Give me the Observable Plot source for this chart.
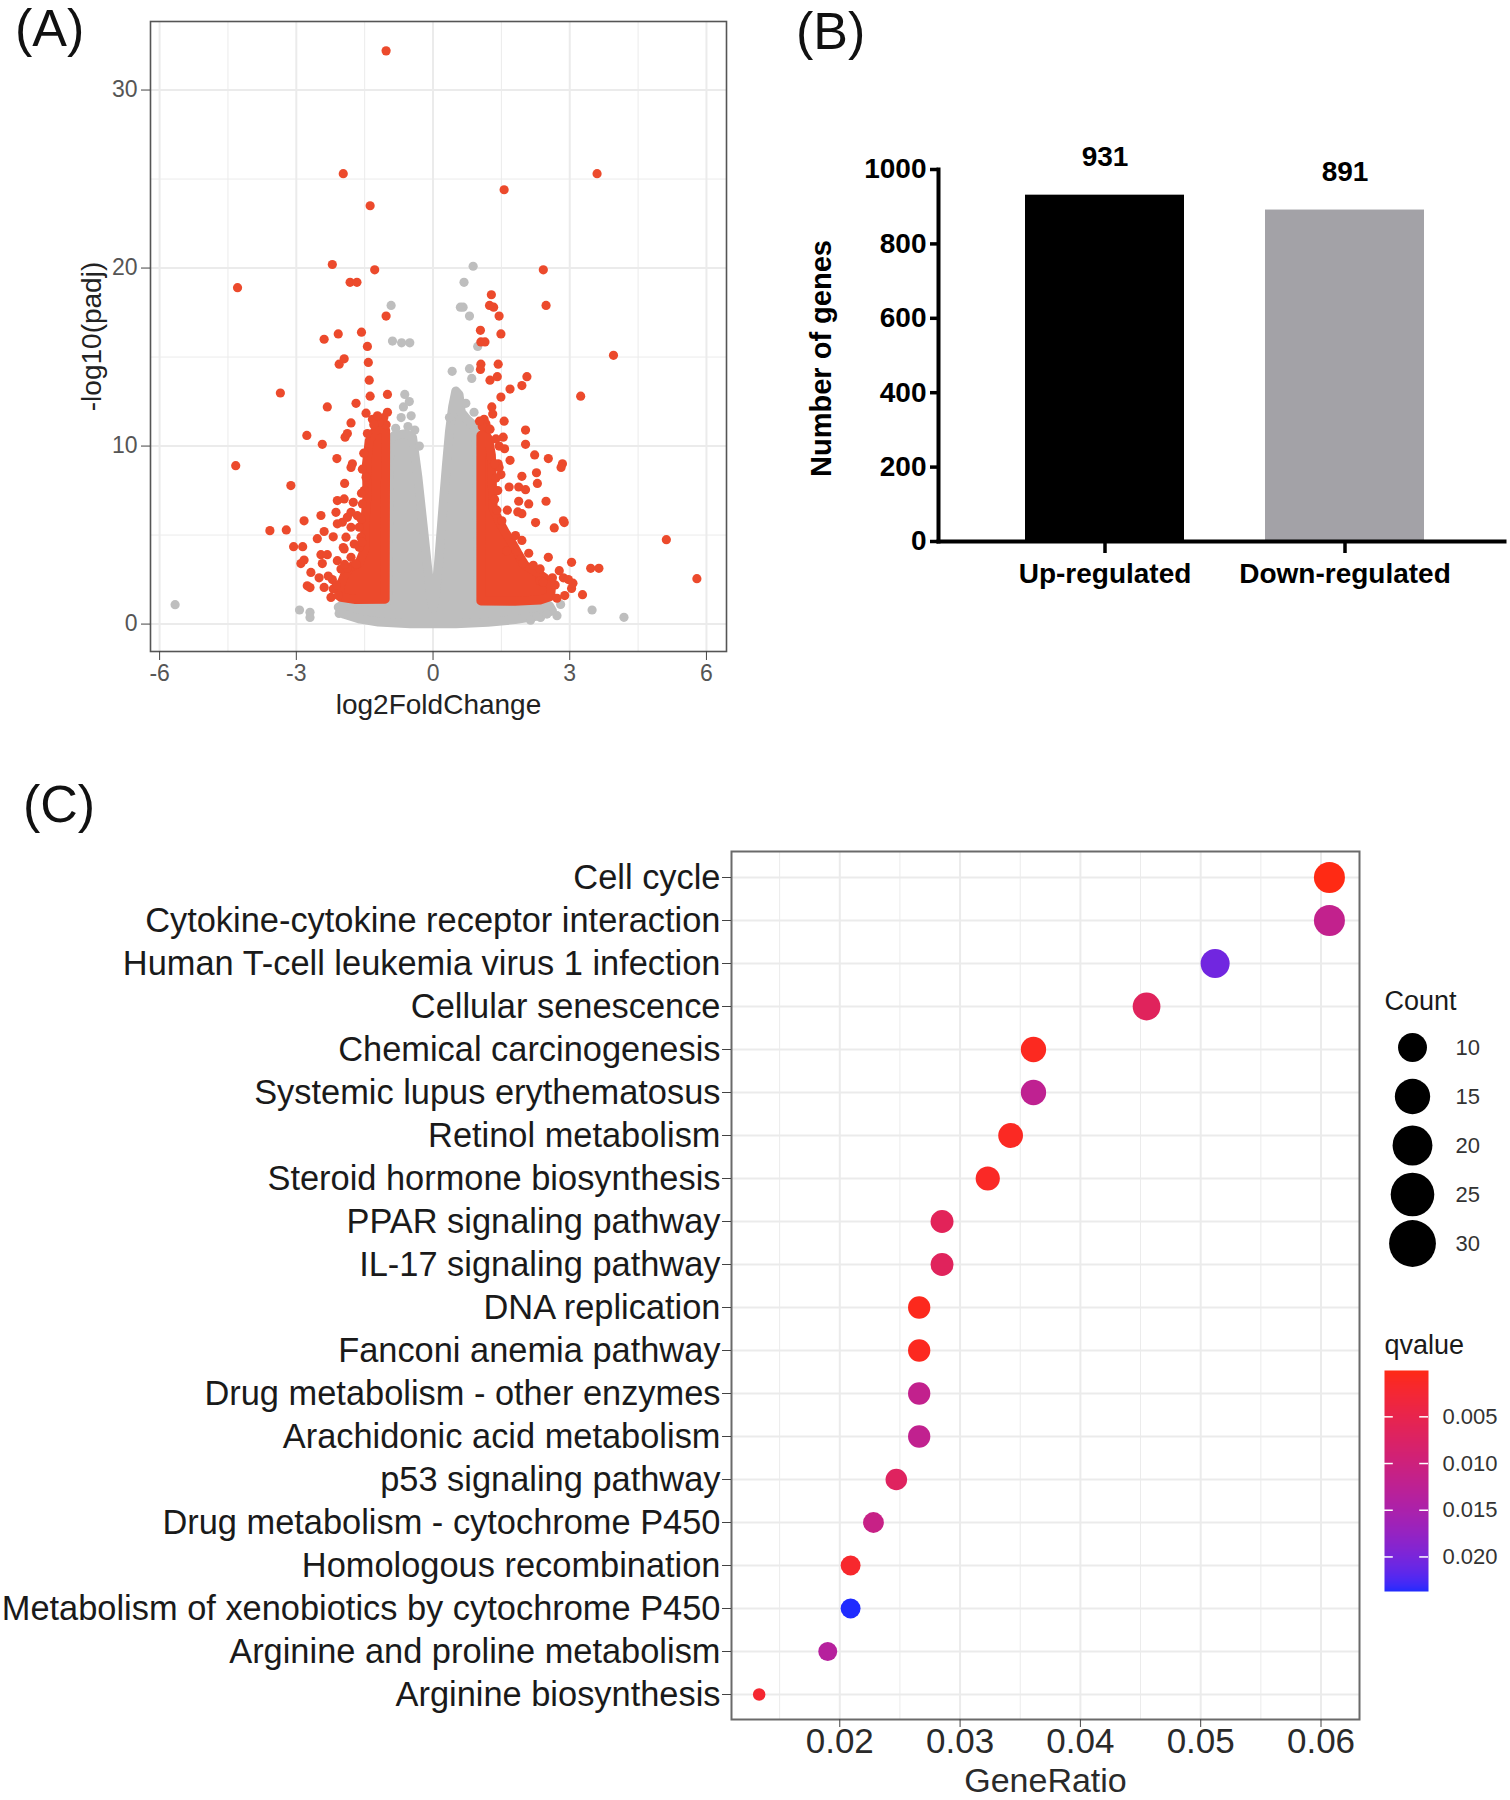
<!DOCTYPE html>
<html>
<head>
<meta charset="utf-8">
<script src="https://cdn.jsdelivr.net/npm/d3@7"></script>
<script src="https://cdn.jsdelivr.net/npm/@observablehq/plot@0.6"></script>
<style>
  html, body { margin: 0; padding: 0; background: #ffffff; }
  #root { position: relative; width: 1510px; height: 1800px; overflow: hidden; background: #fff;
          font-family: "Liberation Sans", Arial, sans-serif; }
  .panel { position: absolute; z-index: 1; }
  .panel svg { display: block; }
  .tag { position: absolute; z-index: 5; font-size: 52px; line-height: 1; color: #111; font-family: "Liberation Sans", Arial, sans-serif; }
</style>
</head>
<body>
<div id="root">
  <div class="tag" style="left:15px; top:2px;">(A)</div>
  <div class="tag" style="left:796px; top:5px;">(B)</div>
  <div class="tag" style="left:23px; top:778px;">(C)</div>
</div>
<script>
// ---------------- Panel A: volcano plot (log2FoldChange, -log10(padj)) ----------------
// significant (red) genes read individually
const volcanoSigPoints = [
  [-1.03,32.2],[-1.97,25.3],[-1.38,23.5],[-2.21,20.2],[-1.28,19.9],[-1.82,19.2],[-1.67,19.2],[-4.29,18.9],
  [-1.03,17.3],[-2.08,16.3],[-1.57,16.4],[-2.39,16.0],[-1.44,15.6],
  [3.60,25.3],[1.56,24.4],[2.42,19.9],[1.28,18.5],[1.24,17.9],[1.33,17.8],[2.48,17.9],[1.45,17.3],
  [1.04,16.5],[1.49,16.3],[1.05,15.85],[1.14,15.85],
  [-4.33,8.9],[-3.35,12.98],[-3.12,7.78],[-3.58,5.25],[-3.22,5.29],[-3.06,4.35],[-2.86,4.35],[-2.77,10.6],
  [-2.43,10.1],[-2.32,12.2],[-2.06,14.6],[-1.95,14.9],[-1.69,12.4],[-1.80,11.3],[-1.42,14.7],[-1.40,13.7],
  [-1.38,12.8],[-1.0,12.9],[-1.47,11.85],[-1.33,11.5],[-1.03,11.2],[-1.93,10.5],[-1.88,10.7],[-2.11,9.3],
  [-1.80,8.8],[-1.77,9.0],[-1.94,7.9],[-2.83,5.8],[-2.46,6.1],[-2.54,4.8],[-2.39,5.2],[-2.19,4.9],
  [-2.90,3.4],[-2.83,3.6],[-2.68,2.9],[-2.76,2.15],[-2.70,2.05],[-2.50,2.6],[-2.39,2.06],[-2.21,2.5],
  [-1.97,4.3],[-2.46,3.9],[-2.32,3.9],[-2.43,3.4],[-2.24,1.5],[-2.19,1.97],[-2.3,2.7],
  [-2.10,6.94],[-1.95,7.03],[-2.13,6.28],[-1.99,5.72],[-1.80,5.44],[-1.66,6.09],[-1.55,6.75],[-1.75,6.84],
  [-1.80,6.28],[-1.62,5.44],[-1.91,4.88],[-1.73,4.50],[-1.58,4.88],[-2.10,5.63],[-1.88,6.00],[-1.95,4.22],
  [-1.80,3.75],[-1.62,4.31],[-1.69,3.38],[-2.02,3.09],[-1.88,3.15],[-2.10,3.56],[-1.51,7.5],[-1.57,7.35],[-1.47,8.25],
  [-1.08,11.6],[-1.18,11.35],[-1.30,11.2],[-1.44,10.7],[-1.52,9.6],[-1.55,8.7],[-1.0,11.9],[-1.22,11.7],
  [-1.58,5.9],[-1.56,4.6],[-2.12,2.2],[-2.08,1.6],[-1.94,3.35],
  [3.96,15.1],[3.24,12.8],[5.12,4.74],[5.79,2.55],[3.46,3.13],[3.64,3.13],[3.04,3.47],[3.28,1.65],
  [2.89,1.6],[3.04,2.0],[2.86,2.6],[2.97,2.5],[3.07,2.3],[2.77,3.0],[2.53,3.75],[2.35,3.1],[2.72,1.45],
  [2.84,9.0],[2.81,8.8],[2.53,9.3],[2.86,5.8],[2.88,5.7],[2.66,5.4],[2.48,6.9],[2.25,5.7],[2.29,7.9],
  [2.27,8.5],[2.23,9.5],[2.03,10.1],[2.03,10.9],[2.06,13.9],[1.95,13.4],[1.69,13.2],[1.49,12.75],
  [1.25,13.7],[1.41,13.9],[1.05,14.6],[1.04,14.3],[1.43,14.6],[1.29,12.2],[1.31,11.8],[1.12,11.5],
  [1.16,11.25],[1.56,11.4],[1.54,10.5],[1.57,9.85],[1.69,9.2],[1.43,9.0],[1.49,8.4],[1.45,8.8],
  [1.95,8.3],[1.88,7.7],[2.03,7.55],[1.67,7.7],[1.88,6.9],[2.10,6.75],[1.86,6.3],[1.95,6.2],[1.63,6.4],
  [1.51,5.8],[1.81,4.97],[1.95,4.7],[1.62,4.1],[2.10,3.98],[1.92,3.65],[1.97,3.4],[2.35,2.44],[2.42,2.35],
  [1.35,9.0],[1.38,8.2],[1.42,7.5],[1.35,7.0],[1.40,6.4],[1.45,10.0],[1.38,10.4],[1.2,11.0],
  [1.08,11.1],[1.25,10.95],[1.02,11.4],[2.62,2.6],[2.68,2.2],[2.2,3.3]
];
// non-significant (grey) genes read individually (sparse ones)
const volcanoNsPoints = [
  [-5.66,1.09],[-2.93,0.79],[-2.70,0.66],[-2.70,0.37],[-2.06,0.6],[3.49,0.79],[4.19,0.38],
  [2.14,0.22],[2.36,0.37],[2.50,0.56],[2.72,0.47],[2.8,1.1],
  [-0.92,17.9],[-0.89,15.9],[-0.69,15.8],[-0.51,15.8],[-0.62,12.9],[-0.52,12.5],[-0.48,11.7],
  [-0.70,11.6],[-0.55,11.1],[-0.30,10.0],[-0.65,12.2],[-0.82,11.0],[-0.4,10.9],
  [0.88,20.1],[0.68,19.2],[0.60,17.8],[0.66,17.8],[0.80,17.3],[0.98,15.6],[0.42,14.2],[0.80,14.35],[0.85,13.8],
  [0.72,12.4],[0.9,11.9],[0.36,11.6]
];
// outline of the dense grey cloud (dot centres)
const nsCloudOutline = [
  [-1.95,0.55],[-2.08,0.95],[-1.9,1.2],[-1.5,1.25],[-1.0,1.3],
  [-0.95,10.3],[-0.85,10.6],[-0.6,10.7],[-0.45,10.5],
  [-0.33,8.2],[-0.22,5.6],[-0.12,3.2],[-0.05,1.6],[0.0,0.9],
  [0.05,1.6],[0.12,3.4],[0.2,6.0],[0.29,8.8],[0.36,10.8],[0.43,12.2],[0.5,13.1],[0.57,12.9],
  [0.62,11.9],[0.75,11.5],[0.88,11.2],[0.95,10.6],
  [1.0,1.25],[1.6,1.25],[2.2,1.2],[2.55,1.05],[2.62,0.75],[2.3,0.45],[1.8,0.25],[1.2,0.1],
  [0.5,0.02],[-0.5,0.02],[-1.2,0.12],[-1.6,0.28]
];
// outlines of the dense red clusters (dot centres)
const sigLeftOutline = [
  [-1.05,1.4],[-1.04,10.9],[-1.12,11.05],[-1.28,10.85],[-1.4,10.3],[-1.46,9.0],[-1.45,7.2],[-1.5,5.6],
  [-1.5,4.2],[-1.62,3.45],[-1.82,3.2],[-1.95,2.7],[-2.05,2.1],[-2.02,1.5],[-1.7,1.38]
];
const sigRightOutline = [
  [1.05,1.3],[1.05,10.6],[1.13,10.75],[1.22,10.4],[1.28,9.5],[1.3,8.0],[1.32,6.5],[1.45,5.8],
  [1.6,5.1],[1.75,4.5],[1.88,3.9],[2.02,3.3],[2.25,2.95],[2.45,2.6],[2.6,2.1],[2.58,1.55],[2.35,1.35],[1.8,1.28]
];
const volcanoXTicks = [-6, -3, 0, 3, 6];
const volcanoYTicks = [0, 10, 20, 30];

// ---------------- Panel B: bar chart ----------------
const barCategories = ["Up-regulated", "Down-regulated"];
const barValues = [931, 891];
const barColors = ["#000000", "#a3a2a7"];
const barTicks = [0, 200, 400, 600, 800, 1000];

// ---------------- Panel C: KEGG dot plot ----------------
const keggTerms = [
  "Cell cycle",
  "Cytokine-cytokine receptor interaction",
  "Human T-cell leukemia virus 1 infection",
  "Cellular senescence",
  "Chemical carcinogenesis",
  "Systemic lupus erythematosus",
  "Retinol metabolism",
  "Steroid hormone biosynthesis",
  "PPAR signaling pathway",
  "IL-17 signaling pathway",
  "DNA replication",
  "Fanconi anemia pathway",
  "Drug metabolism - other enzymes",
  "Arachidonic acid metabolism",
  "p53 signaling pathway",
  "Drug metabolism - cytochrome P450",
  "Homologous recombination",
  "Metabolism of xenobiotics by cytochrome P450",
  "Arginine and proline metabolism",
  "Arginine biosynthesis"
];
const geneRatio = [0.0607,0.0607,0.0512,0.0455,0.0361,0.0361,0.0342,0.0323,0.0285,0.0285,
                   0.0266,0.0266,0.0266,0.0266,0.0247,0.0228,0.0209,0.0209,0.0190,0.0133];
const geneCount = [32,32,27,24,19,19,18,17,15,15,14,14,14,14,13,12,11,11,10,7];
const qValue = [0.00004,0.0118,0.0205,0.0065,0.0008,0.0122,0.0010,0.0012,0.0062,0.0065,
                0.0006,0.0008,0.0118,0.0120,0.0068,0.0110,0.0018,0.0237,0.0135,0.0022];
const ratioMajorTicks = [0.02, 0.03, 0.04, 0.05, 0.06];
const ratioMinorTicks = [0.015, 0.025, 0.035, 0.045, 0.055];
const countBreaks = [10, 15, 20, 25, 30];
const qBreaks = [0.005, 0.010, 0.015, 0.020];

// ======================================================================
const root = document.getElementById("root");
function place(el, left, top) {
  const d = document.createElement("div");
  d.className = "panel";
  d.style.left = left + "px";
  d.style.top = top + "px";
  d.appendChild(el);
  root.appendChild(d);
}
const FONT = "'Liberation Sans', Arial, sans-serif";
const RED = "#ec4a2c", GREY = "#bebebe", GRID = "#ebebeb";
const px = d => d[0], py = d => d[1];

// ---------- A ----------
const A = Plot.plot({
  width: 760, height: 740,
  marginLeft: 150, marginRight: 34, marginTop: 21, marginBottom: 89,
  x: {domain: [-6.2, 6.44]},
  y: {domain: [-1.54, 33.85]},
  style: {fontFamily: FONT, fontSize: "23px", background: "transparent", overflow: "visible"},
  marks: [
    Plot.gridX([-4.5, -1.5, 1.5, 4.5], {stroke: GRID, strokeOpacity: 1, strokeWidth: 1}),
    Plot.gridY([5, 15, 25], {stroke: GRID, strokeOpacity: 1, strokeWidth: 1}),
    Plot.gridX(volcanoXTicks, {stroke: GRID, strokeOpacity: 1, strokeWidth: 2}),
    Plot.gridY(volcanoYTicks, {stroke: GRID, strokeOpacity: 1, strokeWidth: 2}),
    Plot.line(nsCloudOutline, {x: px, y: py, curve: "linear-closed", fill: GREY, stroke: GREY, strokeWidth: 9, strokeLinejoin: "round"}),
    Plot.dot(volcanoNsPoints, {x: px, y: py, r: 4.6, fill: GREY}),
    Plot.line(sigLeftOutline, {x: px, y: py, curve: "linear-closed", fill: RED, stroke: RED, strokeWidth: 9, strokeLinejoin: "round"}),
    Plot.line(sigRightOutline, {x: px, y: py, curve: "linear-closed", fill: RED, stroke: RED, strokeWidth: 9, strokeLinejoin: "round"}),
    Plot.dot(volcanoSigPoints, {x: px, y: py, r: 4.6, fill: RED}),
    Plot.frame({stroke: "#555", strokeWidth: 1.6}),
    Plot.axisX(volcanoXTicks, {tickSize: 9, tickPadding: 4, stroke: "#444", fill: "#555", fontSize: 23, tickFormat: d => String(d), label: null}),
    Plot.axisY(volcanoYTicks, {tickSize: 9, tickPadding: 4, stroke: "#444", fill: "#555", fontSize: 23, tickFormat: d => String(d), label: null}),
    Plot.text(["log2FoldChange"], {frameAnchor: "bottom", text: d => d, dy: 62, textAnchor: "middle", fontSize: 28, fill: "#222"}),
    Plot.text(["-log10(padj)"], {frameAnchor: "left", text: d => d, dx: -58, rotate: -90, textAnchor: "middle", fontSize: 28, fill: "#222"})
  ]
});
place(A, 0, 0);

// ---------- B ----------
const barData = barCategories.map((c, i) => ({cat: c, val: barValues[i], col: barColors[i]}));
const B = Plot.plot({
  width: 750, height: 740,
  marginLeft: 178, marginRight: 6, marginTop: 169, marginBottom: 199,
  x: {type: "band", domain: barCategories, range: [264, 665], paddingInner: 0.336, paddingOuter: 0},
  y: {domain: [0, 1000]},
  color: {type: "identity"},
  style: {fontFamily: FONT, fontSize: "28px", fontWeight: "bold", background: "transparent", overflow: "visible"},
  marks: [
    Plot.barY(barData, {x: "cat", y: "val", fill: "col"}),
    Plot.text(barData, {x: "cat", y: "val", text: d => String(d.val), dy: -38, fontSize: 28, fontWeight: "bold", fill: "#000"}),
    Plot.frame({anchor: "left", stroke: "#000", strokeWidth: 4}),
    Plot.frame({anchor: "bottom", stroke: "#000", strokeWidth: 4}),
    Plot.axisY(barTicks, {tickSize: 8, tickPadding: 4, strokeWidth: 3.5, stroke: "#000", fill: "#000", fontSize: 28, fontWeight: "bold", tickFormat: d3.format("d"), label: null}),
    Plot.axisX({tickSize: 12, tickPadding: 10, strokeWidth: 3.5, stroke: "#000", fill: "#000", fontSize: 28, fontWeight: "bold", label: null}),
    Plot.text(["Number of genes"], {frameAnchor: "left", text: d => d, dx: -117, dy: 3, rotate: -90, textAnchor: "middle", fontSize: 29, fontWeight: "bold", fill: "#000"})
  ]
});
place(B, 760, 0);

// ---------- C ----------
const keggData = keggTerms.map((t, i) => ({term: t, ratio: geneRatio[i], count: geneCount[i], q: qValue[i]}));
const qExtent = d3.extent(qValue);
const colorScale = {type: "linear", domain: qExtent, range: ["#ff2a14", "#1f2bff"], interpolate: "lab"};
const C = Plot.plot({
  width: 1510, height: 1040,
  marginLeft: 731, marginRight: 151, marginTop: 91, marginBottom: 81,
  x: {domain: [0.0110, 0.0632]},
  y: {type: "point", domain: keggTerms, range: [117, 934], padding: 0},
  r: {type: "linear", domain: [0, 5], range: [6.25, 15.5]},
  color: colorScale,
  style: {fontFamily: FONT, fontSize: "34px", background: "transparent", overflow: "visible"},
  marks: [
    Plot.gridX(ratioMinorTicks, {stroke: GRID, strokeOpacity: 1, strokeWidth: 1}),
    Plot.gridX(ratioMajorTicks, {stroke: GRID, strokeOpacity: 1, strokeWidth: 2}),
    Plot.gridY(keggTerms, {stroke: GRID, strokeOpacity: 1, strokeWidth: 2}),
    Plot.dot(keggData, {x: "ratio", y: "term", r: d => Math.sqrt(d.count - 7), fill: "q", stroke: null}),
    Plot.frame({stroke: "#6a6a6a", strokeWidth: 2}),
    Plot.axisY(keggTerms, {tickSize: 9, tickPadding: 2, stroke: "#444", fill: "#1a1a1a", fontSize: 34.4, label: null}),
    Plot.axisX(ratioMajorTicks, {tickSize: 8, tickPadding: 1, stroke: "#444", fill: "#2a2a2a", fontSize: 35, tickFormat: d3.format(".2f"), label: null}),
    Plot.text(["GeneRatio"], {frameAnchor: "bottom", text: d => d, dy: 72, textAnchor: "middle", fontSize: 34, fill: "#2a2a2a"})
  ]
});
place(C, 0, 760);

// ---------- C legend: Count ----------
const countLegend = Plot.plot({
  width: 140, height: 320,
  marginLeft: 0, marginRight: 0, marginTop: 0, marginBottom: 0,
  x: {domain: [0, 140], range: [0, 140], axis: null},
  y: {domain: [10, 30], range: [87, 283], axis: null},
  r: {type: "linear", domain: [0, 5], range: [9.4, 24]},
  style: {fontFamily: FONT, background: "transparent", overflow: "visible"},
  marks: [
    Plot.text(["Count"], {frameAnchor: "top-left", text: d => d, dx: 14, dy: 30, textAnchor: "start", fontSize: 27, fill: "#1a1a1a"}),
    Plot.dot(countBreaks, {x: () => 42, y: d => d, r: d => Math.sqrt(d - 7), fill: "#000"}),
    Plot.text(countBreaks, {x: () => 85, y: d => d, text: d => String(d), textAnchor: "start", fontSize: 22, fill: "#333"})
  ]
});
place(countLegend, 1370, 960);

// ---------- C legend: qvalue colour bar ----------
const qLegend = Plot.plot({
  width: 140, height: 280,
  marginLeft: 14, marginRight: 82, marginTop: 40, marginBottom: 19,
  x: {domain: [0, 1], axis: null},
  y: {domain: qExtent, range: [40, 261], axis: null},
  color: colorScale,
  style: {fontFamily: FONT, background: "transparent", overflow: "visible"},
  marks: [
    Plot.raster({fill: (x, y) => y, x1: 0, x2: 1, y1: qExtent[0], y2: qExtent[1], pixelSize: 1}),
    Plot.ruleY(qBreaks, {x1: 0, x2: 0.2, stroke: "white", strokeWidth: 1.5}),
    Plot.ruleY(qBreaks, {x1: 0.8, x2: 1, stroke: "white", strokeWidth: 1.5}),
    Plot.text(qBreaks, {x: () => 1, y: d => d, text: d => d3.format(".3f")(d), dx: 14, textAnchor: "start", fontSize: 22, fill: "#333"}),
    Plot.text(["qvalue"], {frameAnchor: "top-left", text: d => d, dy: -36, textAnchor: "start", fontSize: 27, fill: "#1a1a1a"})
  ]
});
place(qLegend, 1370, 1330);
</script>
</body>
</html>
